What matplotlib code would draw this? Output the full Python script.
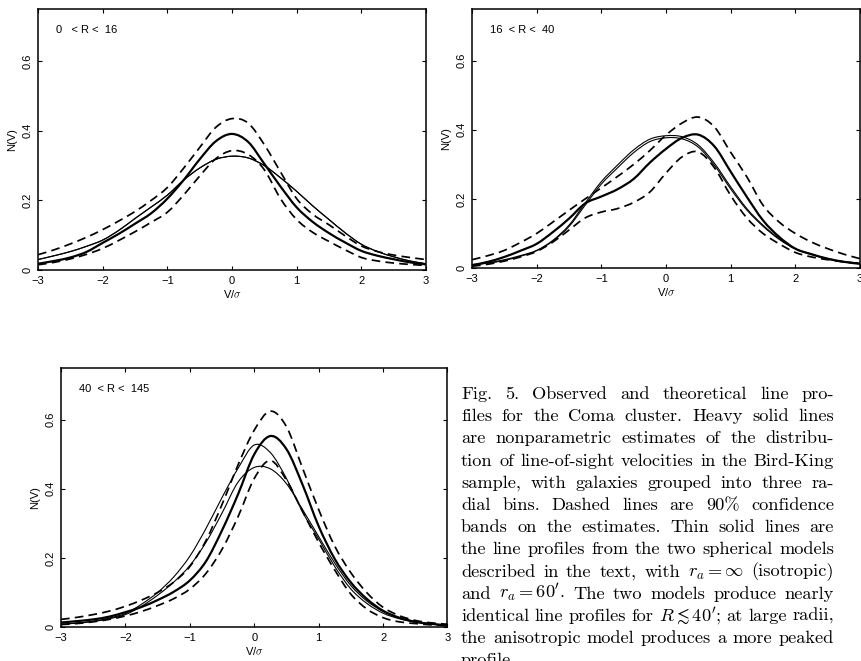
import matplotlib
matplotlib.use("Agg")
import matplotlib.pyplot as plt
import numpy as np
from matplotlib.path import Path
from matplotlib.patches import PathPatch

# --- DATA ---
V = [-3, -2.75, -2.5, -2.25, -2, -1.75, -1.5, -1.25, -1, -0.75, -0.5, -0.25, 0,
     0.25, 0.5, 0.75, 1, 1.25, 1.5, 1.75, 2, 2.25, 2.5, 2.75, 3]

bins = ["0   < R <  16", "16  < R <  40", "40  < R <  145"]

# panel 1: 0 < R < 16
est_1 = [0.018, 0.026, 0.036, 0.052, 0.078, 0.104, 0.133, 0.163, 0.205, 0.258, 0.318, 0.370, 0.391,
         0.368, 0.305, 0.240, 0.180, 0.138, 0.106, 0.079, 0.055, 0.041, 0.031, 0.022, 0.016]
hi_1 = [0.044, 0.058, 0.075, 0.094, 0.116, 0.141, 0.168, 0.200, 0.237, 0.292, 0.352, 0.410, 0.435,
        0.422, 0.360, 0.282, 0.205, 0.160, 0.130, 0.098, 0.069, 0.053, 0.043, 0.036, 0.030]
lo_1 = [0.015, 0.022, 0.032, 0.045, 0.062, 0.085, 0.110, 0.137, 0.166, 0.215, 0.270, 0.320, 0.343,
        0.332, 0.288, 0.205, 0.145, 0.108, 0.082, 0.058, 0.036, 0.026, 0.020, 0.016, 0.013]
iso_1 = [0.030, 0.041, 0.053, 0.068, 0.086, 0.114, 0.148, 0.181, 0.215, 0.258, 0.293, 0.318, 0.327,
         0.322, 0.300, 0.265, 0.226, 0.184, 0.145, 0.107, 0.074, 0.053, 0.038, 0.026, 0.018]
ani_1 = [0.030, 0.041, 0.053, 0.068, 0.086, 0.114, 0.148, 0.181, 0.215, 0.258, 0.293, 0.318, 0.327,
         0.322, 0.300, 0.265, 0.226, 0.184, 0.145, 0.107, 0.074, 0.053, 0.038, 0.026, 0.018]

# panel 2: 16 < R < 40
est_2 = [0.008, 0.018, 0.032, 0.050, 0.070, 0.104, 0.143, 0.187, 0.207, 0.228, 0.258, 0.305, 0.345,
         0.377, 0.386, 0.352, 0.279, 0.206, 0.138, 0.090, 0.056, 0.040, 0.027, 0.018, 0.012]
hi_2 = [0.024, 0.036, 0.051, 0.074, 0.100, 0.133, 0.167, 0.200, 0.232, 0.265, 0.300, 0.340, 0.385,
        0.420, 0.437, 0.408, 0.335, 0.264, 0.182, 0.133, 0.100, 0.075, 0.056, 0.040, 0.027]
lo_2 = [0.005, 0.011, 0.020, 0.032, 0.048, 0.075, 0.110, 0.145, 0.162, 0.172, 0.190, 0.220, 0.275,
        0.322, 0.336, 0.290, 0.210, 0.145, 0.100, 0.070, 0.045, 0.032, 0.024, 0.018, 0.013]
iso_2 = [0.010, 0.015, 0.024, 0.036, 0.051, 0.080, 0.124, 0.188, 0.250, 0.298, 0.342, 0.373, 0.383,
         0.380, 0.356, 0.303, 0.235, 0.172, 0.124, 0.085, 0.056, 0.040, 0.027, 0.018, 0.014]
ani_2 = [0.009, 0.014, 0.022, 0.034, 0.050, 0.078, 0.120, 0.182, 0.243, 0.290, 0.334, 0.366, 0.377,
         0.374, 0.350, 0.297, 0.229, 0.168, 0.121, 0.083, 0.055, 0.039, 0.026, 0.017, 0.013]

# panel 3: 40 < R < 145
est_3 = [0.013, 0.017, 0.022, 0.030, 0.043, 0.058, 0.078, 0.102, 0.135, 0.190, 0.280, 0.385, 0.500,
         0.553, 0.515, 0.412, 0.292, 0.197, 0.129, 0.081, 0.047, 0.027, 0.015, 0.009, 0.005]
hi_3 = [0.022, 0.028, 0.036, 0.046, 0.060, 0.078, 0.100, 0.130, 0.175, 0.250, 0.355, 0.470, 0.570,
        0.625, 0.580, 0.460, 0.340, 0.234, 0.157, 0.099, 0.057, 0.033, 0.019, 0.012, 0.008]
lo_3 = [0.007, 0.010, 0.015, 0.022, 0.032, 0.045, 0.062, 0.082, 0.110, 0.155, 0.225, 0.320, 0.430,
        0.482, 0.425, 0.335, 0.245, 0.165, 0.095, 0.052, 0.027, 0.015, 0.010, 0.006, 0.004]
iso_3 = [0.008, 0.011, 0.016, 0.024, 0.036, 0.060, 0.092, 0.130, 0.178, 0.245, 0.330, 0.420, 0.462,
         0.458, 0.415, 0.340, 0.262, 0.185, 0.120, 0.075, 0.045, 0.027, 0.016, 0.009, 0.005]
ani_3 = [0.008, 0.012, 0.017, 0.026, 0.039, 0.066, 0.100, 0.145, 0.205, 0.285, 0.375, 0.460, 0.527,
         0.505, 0.430, 0.333, 0.255, 0.175, 0.110, 0.068, 0.040, 0.024, 0.014, 0.008, 0.005]

xticks = [-3, -2, -1, 0, 1, 2, 3]
yticks = [0, 0.2, 0.4, 0.6]
ytick_labels = ["0", "0.2", "0.4", "0.6"]

caption = [
    r"Fig. 5. Observed and theoretical line pro-",
    r"files for the Coma cluster. Heavy solid lines",
    r"are nonparametric estimates of the distribu-",
    r"tion of line-of-sight velocities in the Bird-King",
    r"sample, with galaxies grouped into three ra-",
    r"dial bins. Dashed lines are 90% confidence",
    r"bands on the estimates. Thin solid lines are",
    r"the line profiles from the two spherical models",
    r"described in the text, with $r_a=\infty$ (isotropic)",
    r"and $r_a=60'$. The two models produce nearly",
    r"identical line profiles for $R\lesssim40'$; at large radii,",
    r"the anisotropic model produces a more peaked",
    r"profile.",
]


def smooth_curve(ax, x, y, **kw):
    # draw the points as a smooth curve (Catmull-Rom through each point)
    pts = np.column_stack([np.asarray(x, float), np.asarray(y, float)])
    n = len(pts)
    verts, codes = [pts[0]], [Path.MOVETO]
    for i in range(n - 1):
        p0, p1 = pts[max(i - 1, 0)], pts[i]
        p2, p3 = pts[i + 1], pts[min(i + 2, n - 1)]
        verts += [p1 + (p2 - p0) / 6, p2 - (p3 - p1) / 6, p2]
        codes += [Path.CURVE4] * 3
    ax.add_patch(PathPatch(Path(verts, codes), fill=False, edgecolor="black",
                           capstyle="butt", **kw))


# --- FIGURE ---
plt.rcParams["font.family"] = ["Liberation Sans", "DejaVu Sans"]
plt.rcParams["mathtext.fontset"] = "cm"

W, H = 861, 661
fig = plt.figure(figsize=(W / 100, H / 100), dpi=100)

# axes boxes in pixels: left, top, right, bottom
boxes = [(38, 9, 426, 270), (472, 9, 860, 268), (61, 368, 447.5, 627)]
panels = [
    (est_1, hi_1, lo_1, iso_1, ani_1),
    (est_2, hi_2, lo_2, iso_2, ani_2),
    (est_3, hi_3, lo_3, iso_3, ani_3),
]
dash = (0, (5.0, 3.0))

for (l, t, r, b), (est, hi, lo, iso, ani), label in zip(boxes, panels, bins):
    ax = fig.add_axes([l / W, 1 - b / H, (r - l) / W, (b - t) / H])
    smooth_curve(ax, V, iso, lw=0.8)
    smooth_curve(ax, V, ani, lw=0.8)
    smooth_curve(ax, V, hi, lw=1.25, linestyle=dash)
    smooth_curve(ax, V, lo, lw=1.25, linestyle=dash)
    smooth_curve(ax, V, est, lw=1.6)

    ax.set_xlim(-3, 3)
    ax.set_ylim(0, 0.75)
    ax.set_xticks(xticks)
    ax.set_xticklabels([f"{v:d}".replace("-", "\u2212") for v in xticks], fontsize=8)
    ax.set_yticks(yticks)
    ax.set_yticklabels(ytick_labels, fontsize=8, rotation=90, va="center")
    ax.tick_params(direction="in", length=3, width=0.8, top=True, right=True, pad=4)
    for s in ax.spines.values():
        s.set_linewidth(1.1)
    ax.set_xlabel(r"V/$\sigma$", fontsize=8, labelpad=2)
    ax.set_ylabel("N(V)", fontsize=8, labelpad=4)
    ax.text(-2.72, 0.69, label, fontsize=8, va="center", ha="left")

# --- CAPTION (justified, Computer Modern) ---
fig.canvas.draw()
rend = fig.canvas.get_renderer()
cap_left, cap_right = 461, 834
base0, step = 399, 22.2
for i, line in enumerate(caption):
    words = line.split(" ")
    y = 1 - (base0 + i * step) / H
    txts = [fig.text(0, y, w, fontsize=13.2, family="cmr10", va="baseline") for w in words]
    widths = [tx.get_window_extent(rend).width for tx in txts]
    if i < len(caption) - 1 and len(words) > 1:
        gap = (cap_right - cap_left - sum(widths)) / (len(words) - 1)
    else:
        gap = 6
    x = cap_left
    for tx, w in zip(txts, widths):
        tx.set_x(x / W)
        x += w + gap

fig.savefig("out.png", dpi=100)
